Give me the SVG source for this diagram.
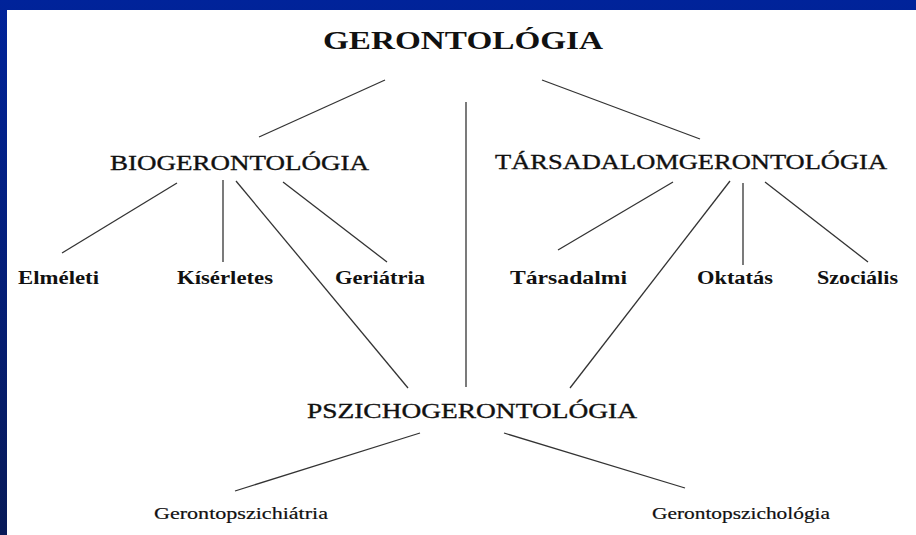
<svg xmlns="http://www.w3.org/2000/svg" width="916" height="535" viewBox="0 0 916 535">
<defs>
<linearGradient id="bg" x1="0" y1="0" x2="0" y2="1">
<stop offset="0" stop-color="#00239a"/>
<stop offset="1" stop-color="#081a58"/>
</linearGradient>
<style>
.t{font-family:"Liberation Serif","Times New Roman",serif;fill:#111;}
.main{font-size:26px;font-weight:bold;}
.mid{font-size:22px;stroke:#111;stroke-width:0.35;}
.leaf{font-size:18px;font-weight:bold;}
.sub{font-size:17px;stroke:#111;stroke-width:0.2;}
.c line{stroke:#333;stroke-width:1.3;}
</style>
</defs>
<rect x="0" y="0" width="916" height="535" fill="url(#bg)"/>
<rect x="7" y="10" width="909" height="525" fill="#ffffff"/>
<g class="c" id="connectors">
<line x1="385" y1="80" x2="259" y2="137"/>
<line x1="466" y1="102" x2="466" y2="387"/>
<line x1="542" y1="80" x2="700" y2="139"/>
<line x1="177" y1="183" x2="62" y2="253"/>
<line x1="223" y1="180" x2="223" y2="262"/>
<line x1="236" y1="181" x2="408" y2="388"/>
<line x1="283" y1="182" x2="387" y2="262"/>
<line x1="673" y1="182" x2="558" y2="250"/>
<line x1="730" y1="181" x2="570" y2="388"/>
<line x1="743" y1="183" x2="743" y2="265"/>
<line x1="765" y1="182" x2="868" y2="262"/>
<line x1="420" y1="433" x2="235" y2="491"/>
<line x1="504" y1="433" x2="685" y2="488"/>
</g>
<g id="n-gerontologia"><text class="t main" x="323" y="49" textLength="280" lengthAdjust="spacingAndGlyphs">GERONTOLÓGIA</text></g>
<g id="n-bio"><text class="t mid" x="110" y="170" textLength="259" lengthAdjust="spacingAndGlyphs">BIOGERONTOLÓGIA</text></g>
<g id="n-tars"><text class="t mid" x="495" y="169" textLength="392" lengthAdjust="spacingAndGlyphs">TÁRSADALOMGERONTOLÓGIA</text></g>
<g id="n-elmeleti"><text class="t leaf" x="18" y="284" textLength="81" lengthAdjust="spacingAndGlyphs">Elméleti</text></g>
<g id="n-kiserletes"><text class="t leaf" x="177" y="284" textLength="96" lengthAdjust="spacingAndGlyphs">Kísérletes</text></g>
<g id="n-geriatria"><text class="t leaf" x="335" y="284" textLength="90" lengthAdjust="spacingAndGlyphs">Geriátria</text></g>
<g id="n-tarsadalmi"><text class="t leaf" x="510" y="284" textLength="117" lengthAdjust="spacingAndGlyphs">Társadalmi</text></g>
<g id="n-oktatas"><text class="t leaf" x="697" y="284" textLength="76" lengthAdjust="spacingAndGlyphs">Oktatás</text></g>
<g id="n-szocialis"><text class="t leaf" x="817" y="284" textLength="81" lengthAdjust="spacingAndGlyphs">Szociális</text></g>
<g id="n-pszicho"><text class="t mid" x="307" y="418" textLength="330" lengthAdjust="spacingAndGlyphs">PSZICHOGERONTOLÓGIA</text></g>
<g id="n-gpsziatria"><text class="t sub" x="154" y="519" textLength="174" lengthAdjust="spacingAndGlyphs">Gerontopszichiátria</text></g>
<g id="n-gpszichologia"><text class="t sub" x="652" y="519" textLength="178" lengthAdjust="spacingAndGlyphs">Gerontopszichológia</text></g>
</svg>
